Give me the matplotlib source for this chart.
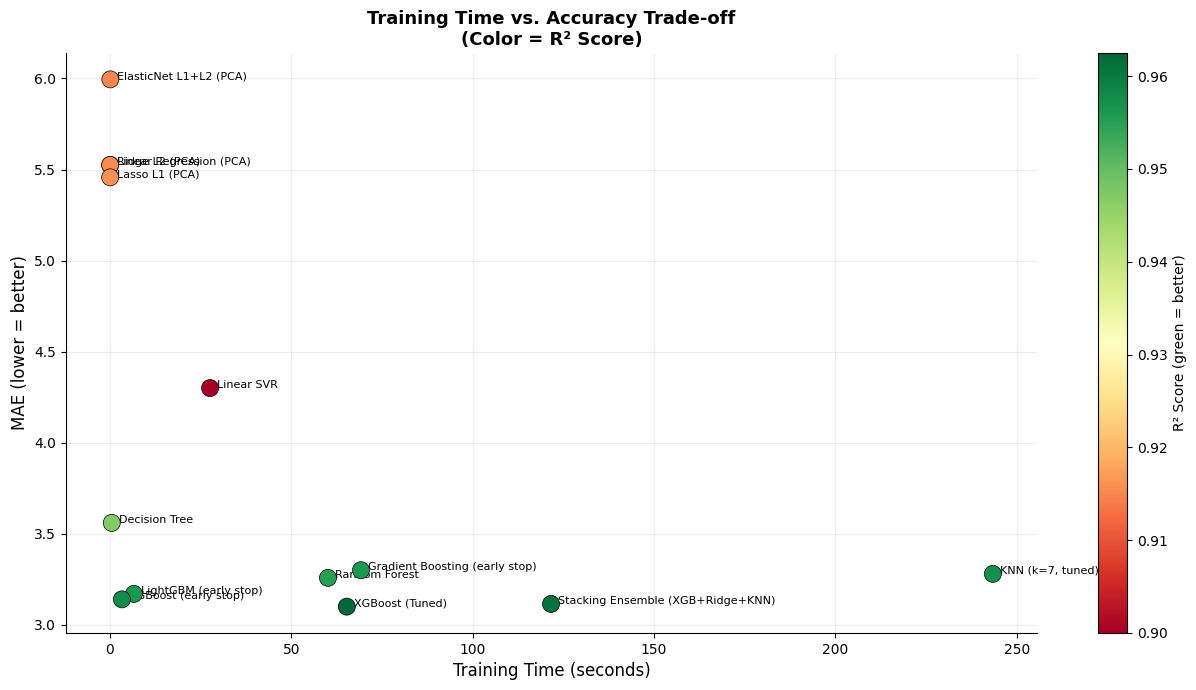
import numpy as np
import matplotlib
matplotlib.use("Agg")
import matplotlib.pyplot as plt

models = ["ElasticNet L1+L2 (PCA)", "Linear Regression (PCA)", "Ridge L2 (PCA)",
          "Lasso L1 (PCA)", "Linear SVR", "Decision Tree", "LightGBM (early stop)",
          "XGBoost (early stop)", "Random Forest", "Gradient Boosting (early stop)",
          "XGBoost (Tuned)", "Stacking Ensemble (XGB+Ridge+KNN)", "KNN (k=7, tuned)"]
train_time = [0.1, 0.08, 0.05, 0.06, 27.6, 0.5, 6.6, 3.3, 60.1, 69.2, 65.3, 121.6, 243.4]
mae = [5.995, 5.525, 5.525, 5.457, 4.30, 3.56, 3.17, 3.14, 3.258, 3.30, 3.10, 3.115, 3.28]
r2 = [0.915, 0.9155, 0.9155, 0.916, 0.900, 0.947, 0.956, 0.958, 0.955, 0.956, 0.9625, 0.961, 0.957]

fig = plt.figure(figsize=(11.96, 6.9), dpi=100)
ax = fig.add_axes([66 / 1196, 57 / 690, 971 / 1196, 580 / 690])
cax = fig.add_axes([1098 / 1196, 57 / 690, 29 / 1196, 580 / 690])

# markers sit on top of the labels, like in the original
sc = ax.scatter(train_time, mae, c=r2, cmap="RdYlGn", s=150,
                edgecolors="black", linewidths=0.5, zorder=3)
for name, x, y in zip(models, train_time, mae):
    ax.annotate(name, (x, y), xytext=(5, 0), textcoords="offset points",
                fontsize=8, zorder=2)

cbar = fig.colorbar(sc, cax=cax)
cbar.set_label("R² Score (green = better)", fontsize=10)

ax.set_xlabel("Training Time (seconds)", fontsize=12)
ax.set_ylabel("MAE (lower = better)", fontsize=12)
ax.set_title("Training Time vs. Accuracy Trade-off\n(Color = R² Score)",
             fontsize=13, fontweight="bold")
ax.grid(True, alpha=0.2)
ax.spines["top"].set_visible(False)
ax.spines["right"].set_visible(False)

fig.savefig("out.png", dpi=100)
